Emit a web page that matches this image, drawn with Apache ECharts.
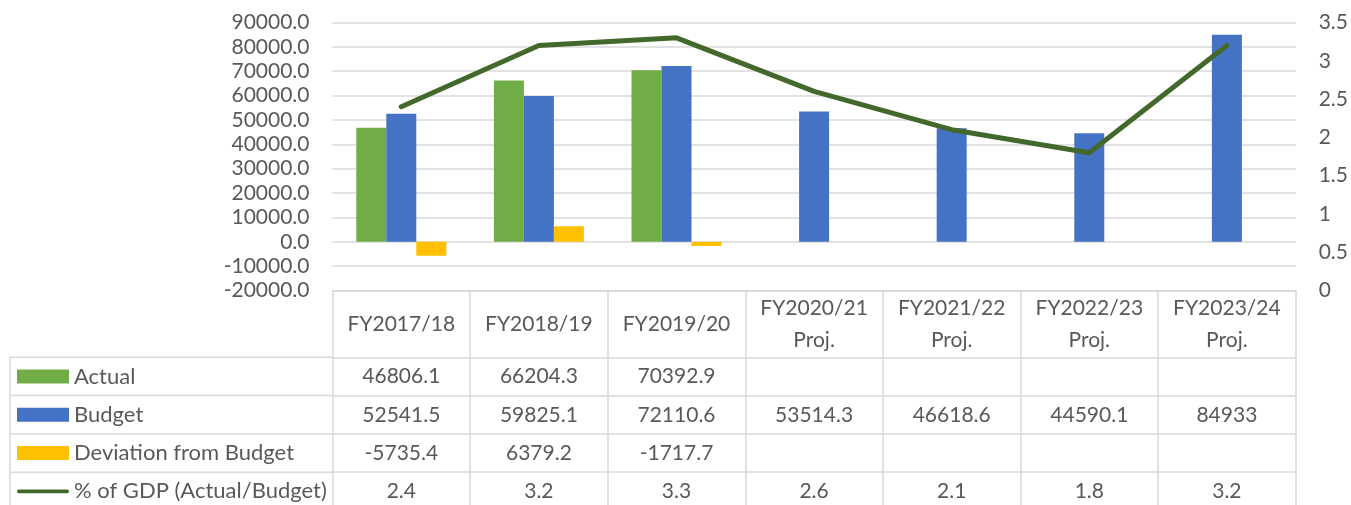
<!DOCTYPE html>
<html>
<head>
<meta charset="utf-8">
<script src="https://cdn.jsdelivr.net/npm/echarts@6/dist/echarts.min.js"></script>
<style>
html,body{margin:0;padding:0;background:#fff;}
#chart{width:1351px;height:505px;}
</style>
</head>
<body>
<div id="chart"></div>
<script>
// ---- data ----
const categories = ['FY2017/18', 'FY2018/19', 'FY2019/20', 'FY2020/21\nProj.', 'FY2021/22\nProj.', 'FY2022/23\nProj.', 'FY2023/24\nProj.'];
const actual = [46806.1, 66204.3, 70392.9, null, null, null, null];
const budget = [52541.5, 59825.1, 72110.6, 53514.3, 46618.6, 44590.1, 84933];
const deviation = [-5735.4, 6379.2, -1717.7, null, null, null, null];
const gdpShare = [2.4, 3.2, 3.3, 2.6, 2.1, 1.8, 3.2];
const seriesNames = ['Actual', 'Budget', 'Deviation from Budget', '% of GDP (Actual/Budget)'];
const leftAxis = { min: -20000, max: 90000, interval: 10000 };
const rightAxis = { min: 0, max: 3.5, interval: 0.5 };

// ---- layout / style ----
const FONT = 'Lato';
const TXT = '#595959';
const GRIDC = '#D9D9D9';
const GL = 332.5, GR = 1296.7, GT = 22.5, GB = 290.5;
const W = 1351, H = 505;
const rowH = 38.3;
const rowTops = [357.3, 395.6, 433.9, 472.2];
const headerCenter = 324;
const colors = ['#70AD47', '#4472C4', '#FFC000', '#43682B'];
const rows = [actual, budget, deviation, gdpShare];

const chart = echarts.init(document.getElementById('chart'), null, { renderer: 'canvas' });

const labelStyle = { color: TXT, fontFamily: FONT, fontSize: 21 };

const xAxes = [{
  type: 'category', data: categories, gridIndex: 0, position: 'bottom',
  boundaryGap: true,
  axisLine: { show: true, onZero: false, lineStyle: { color: GRIDC, width: 1.5 } },
  axisTick: { show: true, interval: 0, alignWithLabel: false, length: H - GB, lineStyle: { color: GRIDC, width: 1.5 } },
  axisLabel: Object.assign({ interval: 0, margin: headerCenter - GB, verticalAlign: 'middle', lineHeight: 32, align: 'center' }, labelStyle),
  splitLine: { show: false }
}];
rows.forEach((r, i) => {
  xAxes.push({
    type: 'category', data: categories, gridIndex: 0, position: 'bottom',
    offset: rowTops[i] - GB,
    axisLine: { show: true, onZero: false, lineStyle: { color: GRIDC, width: 1.5 } },
    axisTick: { show: false },
    axisLabel: Object.assign({
      interval: 0, margin: rowH / 2, verticalAlign: 'middle', align: 'center',
      formatter: (v, idx) => (r[idx] == null ? '' : String(r[idx]))
    }, labelStyle),
    splitLine: { show: false }
  });
});

const graphics = [];
rowTops.forEach(y => {
  graphics.push({ type: 'line', shape: { x1: 10, y1: y, x2: GL, y2: y }, style: { stroke: GRIDC, lineWidth: 1.5 }, silent: true });
});
graphics.push({ type: 'line', shape: { x1: 10, y1: rowTops[0], x2: 10, y2: H }, style: { stroke: GRIDC, lineWidth: 1.5 }, silent: true });

const option = {
  animation: false,
  backgroundColor: '#fff',
  grid: { left: GL, right: W - GR, top: GT, bottom: H - GB, containLabel: false },
  legend: {
    orient: 'vertical', left: 17, top: rowTops[0] + rowH / 2 - 11, padding: 0,
    itemWidth: 52, itemHeight: 14, itemGap: rowH - 22,
    textStyle: { color: TXT, fontFamily: FONT, fontSize: 22, lineHeight: 22 },
    data: [
      { name: seriesNames[0], icon: 'rect' },
      { name: seriesNames[1], icon: 'rect' },
      { name: seriesNames[2], icon: 'rect' },
      { name: seriesNames[3], icon: 'path://M2,0 L54,0 A2,2 0 0 1 54,4 L2,4 A2,2 0 0 1 2,0 Z' }
    ]
  },
  xAxis: xAxes,
  yAxis: [{
    type: 'value', min: leftAxis.min, max: leftAxis.max, interval: leftAxis.interval,
    axisLine: { show: false }, axisTick: { show: false },
    axisLabel: Object.assign({ margin: 23, formatter: v => v.toFixed(1) }, labelStyle),
    splitLine: { show: true, lineStyle: { color: GRIDC, width: 1.5 } }
  }, {
    type: 'value', min: rightAxis.min, max: rightAxis.max, interval: rightAxis.interval,
    axisLine: { show: false }, axisTick: { show: false },
    axisLabel: Object.assign({ margin: 23 }, labelStyle),
    splitLine: { show: false }
  }],
  series: [
    { name: seriesNames[0], type: 'bar', data: actual, barWidth: 30, barGap: '0%', itemStyle: { color: colors[0] } },
    { name: seriesNames[1], type: 'bar', data: budget, barWidth: 30, barGap: '0%', itemStyle: { color: colors[1] } },
    { name: seriesNames[2], type: 'bar', data: deviation, barWidth: 30, barGap: '0%', itemStyle: { color: colors[2] } },
    { name: seriesNames[3], type: 'line', yAxisIndex: 1, data: gdpShare, showSymbol: false, symbol: 'none',
      lineStyle: { color: colors[3], width: 5, cap: 'round', join: 'round' }, itemStyle: { color: colors[3] }, z: 5 }
  ],
  graphic: graphics
};
chart.setOption(option);
</script>
</body>
</html>
